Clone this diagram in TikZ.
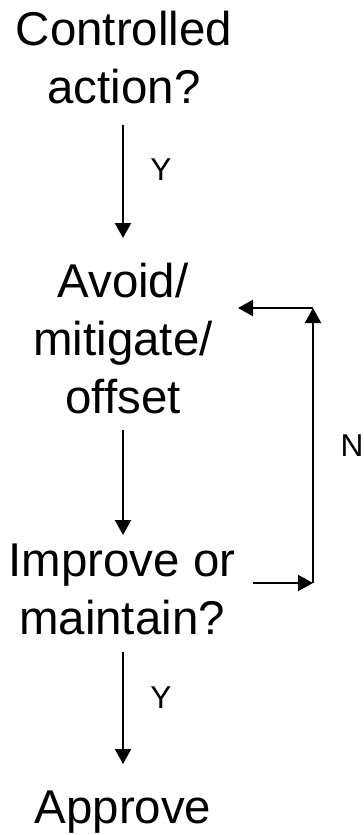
\documentclass[tikz,border=0pt]{standalone}
\usepackage{fontspec}
\setmainfont{Liberation Sans}
\usetikzlibrary{arrows.meta}

\begin{document}
\begin{tikzpicture}
  [x=0.02cm,y=-0.02cm,
   every node/.style={align=center,inner sep=0pt},
   step text/.style={anchor=north,font=\fontsize{27}{33}\selectfont},
   tag/.style={font=\fontsize{18}{20}\selectfont},
   arr/.style={line width=1.2pt,-{Triangle[length=0.3cm,width=0.32cm]}}]
  \useasboundingbox (0,0) rectangle (364,835);

  \node [step text] (ctrl) at (124,11) {Controlled\\action?};
  \node [step text] (avoid) at (123,263) {Avoid/\\mitigate/\\offset};
  \node [step text] (improve) at (122,544) {Improve or\\maintain?};
  \node [step text] (approve) at (123,791) {Approve};

  \node [tag] (y1) at (161,170) {Y};
  \node [tag] (y2) at (161,698) {Y};
  \node [tag] (n) at (352,446) {N};

  \coordinate (fin) at (253,583);
  \coordinate (fbot) at (313,583);
  \coordinate (ftop) at (313,308);
  \coordinate (fout) at (238,308);

  \draw [arr,shorten <=0.4cm,shorten >=0.5cm] (ctrl.south -| 123,0) -- (avoid.north -| 123,0);
  \draw [arr,shorten <=0.3cm,shorten >=0.18cm] (avoid.south -| 123,0) -- (improve.north -| 123,0);
  \draw [arr,shorten <=0.32cm,shorten >=0.54cm] (improve.south -| 123,0) -- (approve.north -| 123,0);

  \foreach \from/\to in {fin/fbot,fbot/ftop,ftop/fout}
    \draw [arr] (\from) -- (\to);

\end{tikzpicture}
\end{document}
